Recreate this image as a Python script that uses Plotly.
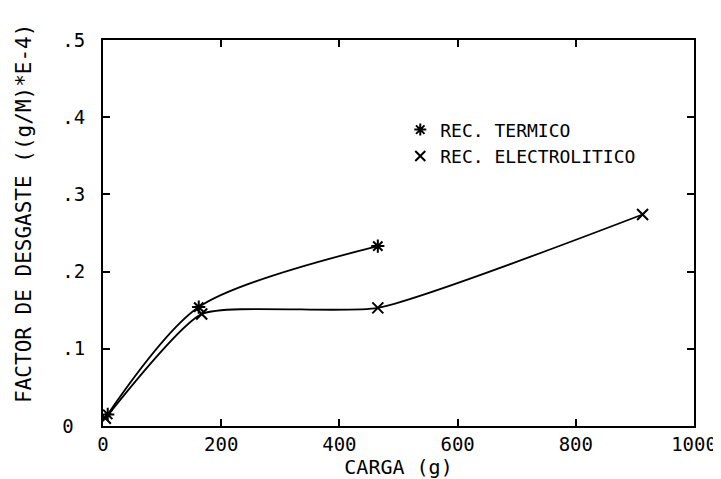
import plotly.graph_objects as go

# Data
carga_termico = [8, 162, 465]
desgaste_termico = [0.015, 0.154, 0.233]
carga_electro = [4, 167, 465, 913]
desgaste_electro = [0.010, 0.145, 0.153, 0.274]

x_ticks = [0, 200, 400, 600, 800, 1000]
x_ticklabels = ["0", "200", "400", "600", "800", "1000"]
y_ticks = [0, 0.1, 0.2, 0.3, 0.4, 0.5]
y_ticklabels = ["0\u00a0", ".1", ".2", ".3", ".4", ".5"]

FONT = "DejaVu Sans Mono"

fig = go.Figure()
fig.add_trace(go.Scatter(
    x=carga_termico, y=desgaste_termico, mode="lines+markers",
    line=dict(color="black", width=1.8, shape="spline", smoothing=0.8),
    marker=dict(symbol="asterisk-open", size=11, color="black", line=dict(width=2, color="black")),
    showlegend=False, name="REC. TERMICO"))
fig.add_trace(go.Scatter(
    x=carga_electro, y=desgaste_electro, mode="lines+markers",
    line=dict(color="black", width=1.8, shape="spline", smoothing=0.5),
    marker=dict(symbol="x-thin-open", size=11, color="black", line=dict(width=2, color="black")),
    showlegend=False, name="REC. ELECTROLITICO"))
# legend-only entries (marker symbol + text)
fig.add_trace(go.Scatter(
    x=[None], y=[None], mode="markers", name="REC. TERMICO",
    marker=dict(symbol="asterisk-open", size=10, color="black", line=dict(width=2, color="black"))))
fig.add_trace(go.Scatter(
    x=[None], y=[None], mode="markers", name="REC. ELECTROLITICO",
    marker=dict(symbol="x-thin-open", size=10, color="black", line=dict(width=2, color="black"))))

axis_common = dict(
    showgrid=False, zeroline=False, showline=True, linecolor="black", linewidth=2,
    mirror="ticks", ticks="inside", ticklen=7, tickwidth=1.5, tickcolor="black",
    tickfont=dict(family=FONT, size=19, color="black"),
)

fig.update_layout(
    width=721, height=479,
    margin=dict(l=95, r=29, t=32, b=57),
    paper_bgcolor="white", plot_bgcolor="white",
    font=dict(family=FONT, color="black"),
    xaxis=dict(range=[0, 1000], tickvals=x_ticks, ticktext=x_ticklabels,
               title=dict(text="CARGA (g)", font=dict(family=FONT, size=20, color="black"), standoff=6),
               **axis_common),
    yaxis=dict(range=[0, 0.5], tickvals=y_ticks, ticktext=y_ticklabels,
               ticklabelstandoff=12, **axis_common),
    legend=dict(x=0.503, y=0.815, xanchor="left", yanchor="top", bgcolor="rgba(0,0,0,0)",
                font=dict(family=FONT, size=18, color="black"), itemwidth=30),
    annotations=[dict(
        text="FACTOR DE DESGASTE ((g/M)*E-4)", textangle=-90,
        xref="paper", yref="paper", x=-0.135, y=0.55, xanchor="center", yanchor="middle",
        showarrow=False, font=dict(family=FONT, size=21, color="black"))],
)

fig.write_html("out.html")
